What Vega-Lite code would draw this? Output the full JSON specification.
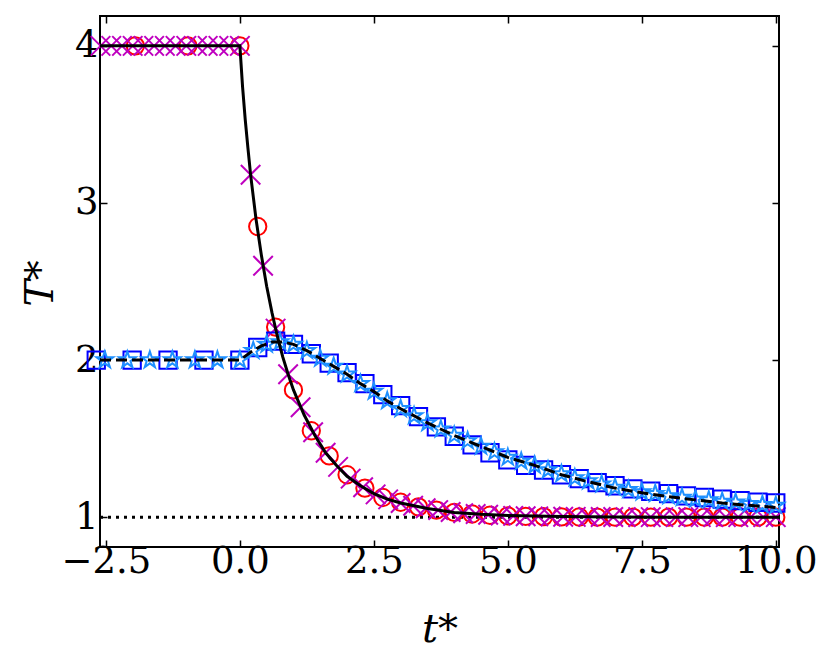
{
  "$schema": "https://vega.github.io/schema/vega-lite/v6.json",
  "width": 679,
  "height": 531,
  "autosize": {"type": "none"},
  "padding": {"left": 100, "top": 16, "right": 52, "bottom": 122},
  "background": "white",
  "datasets": {
    "dotted": [{"t": -2.61, "T": 1.0}, {"t": 10.06, "T": 1.0}],
    "solid": [
      {"t": -2.61, "T": 4.0}, {"t": 0, "T": 4.0}, {"t": 0.05, "T": 3.74}, {"t": 0.1, "T": 3.53},
      {"t": 0.15, "T": 3.35}, {"t": 0.2, "T": 3.18}, {"t": 0.3, "T": 2.9}, {"t": 0.4, "T": 2.67},
      {"t": 0.5, "T": 2.47}, {"t": 0.6, "T": 2.3}, {"t": 0.7, "T": 2.15}, {"t": 0.8, "T": 2.02},
      {"t": 0.9, "T": 1.91}, {"t": 1.0, "T": 1.81}, {"t": 1.2, "T": 1.65}, {"t": 1.4, "T": 1.52},
      {"t": 1.6, "T": 1.41}, {"t": 1.8, "T": 1.33}, {"t": 2.0, "T": 1.26}, {"t": 2.25, "T": 1.2},
      {"t": 2.5, "T": 1.15}, {"t": 2.75, "T": 1.115}, {"t": 3.0, "T": 1.09}, {"t": 3.5, "T": 1.055},
      {"t": 4.0, "T": 1.03}, {"t": 4.5, "T": 1.018}, {"t": 5.0, "T": 1.01}, {"t": 6.0, "T": 1.004},
      {"t": 7.0, "T": 1.001}, {"t": 8.0, "T": 1.0}, {"t": 10.06, "T": 1.0}
    ],
    "dashed": [
      {"t": -2.61, "T": 2.0}, {"t": 0, "T": 2.0}, {"t": 0.2, "T": 2.05}, {"t": 0.4, "T": 2.09},
      {"t": 0.6, "T": 2.115}, {"t": 0.8, "T": 2.115}, {"t": 1.0, "T": 2.1}, {"t": 1.25, "T": 2.06},
      {"t": 1.5, "T": 2.01}, {"t": 1.75, "T": 1.96}, {"t": 2.0, "T": 1.91}, {"t": 2.25, "T": 1.85},
      {"t": 2.5, "T": 1.8}, {"t": 2.75, "T": 1.74}, {"t": 3.0, "T": 1.69}, {"t": 3.5, "T": 1.6},
      {"t": 4.0, "T": 1.52}, {"t": 4.5, "T": 1.45}, {"t": 5.0, "T": 1.38}, {"t": 5.5, "T": 1.33},
      {"t": 6.0, "T": 1.27}, {"t": 6.5, "T": 1.225}, {"t": 7.0, "T": 1.185}, {"t": 7.5, "T": 1.155},
      {"t": 8.0, "T": 1.13}, {"t": 8.5, "T": 1.11}, {"t": 9.0, "T": 1.09}, {"t": 9.5, "T": 1.075},
      {"t": 10.06, "T": 1.06}
    ],
    "circles": [
      {"t": -1.95, "T": 4.0}, {"t": -0.97, "T": 4.0}, {"t": 0.0, "T": 4.0},
      {"t": 0.333, "T": 2.85}, {"t": 0.667, "T": 2.21}, {"t": 1.0, "T": 1.81}, {"t": 1.333, "T": 1.55},
      {"t": 1.667, "T": 1.39}, {"t": 2.0, "T": 1.27}, {"t": 2.333, "T": 1.185}, {"t": 2.667, "T": 1.125},
      {"t": 3.0, "T": 1.095}, {"t": 3.333, "T": 1.065}, {"t": 3.667, "T": 1.045}, {"t": 4.0, "T": 1.03},
      {"t": 4.333, "T": 1.02}, {"t": 4.667, "T": 1.012}, {"t": 5.0, "T": 1.008}, {"t": 5.333, "T": 1.005},
      {"t": 5.667, "T": 1.003}, {"t": 6.0, "T": 1.002}, {"t": 6.333, "T": 1.001}, {"t": 6.667, "T": 1.0},
      {"t": 7.0, "T": 1.0}, {"t": 7.333, "T": 1.0}, {"t": 7.667, "T": 1.0}, {"t": 8.0, "T": 1.0},
      {"t": 8.333, "T": 1.0}, {"t": 8.667, "T": 1.0}, {"t": 9.0, "T": 1.0}, {"t": 9.333, "T": 1.0},
      {"t": 9.667, "T": 1.0}, {"t": 10.0, "T": 1.0}
    ],
    "crosses": [
      {"t": -2.6, "T": 4.0}, {"t": -2.4, "T": 4.0}, {"t": -2.2, "T": 4.0}, {"t": -2.0, "T": 4.0},
      {"t": -1.8, "T": 4.0}, {"t": -1.6, "T": 4.0}, {"t": -1.4, "T": 4.0}, {"t": -1.2, "T": 4.0},
      {"t": -1.0, "T": 4.0}, {"t": -0.8, "T": 4.0}, {"t": -0.6, "T": 4.0}, {"t": -0.4, "T": 4.0},
      {"t": -0.2, "T": 4.0}, {"t": 0.0, "T": 4.0},
      {"t": 0.2, "T": 3.18}, {"t": 0.433, "T": 2.6}, {"t": 0.667, "T": 2.2}, {"t": 0.9, "T": 1.91},
      {"t": 1.133, "T": 1.7}, {"t": 1.367, "T": 1.54}, {"t": 1.6, "T": 1.41}, {"t": 1.833, "T": 1.32},
      {"t": 2.067, "T": 1.245}, {"t": 2.3, "T": 1.19}, {"t": 2.533, "T": 1.145}, {"t": 2.767, "T": 1.113},
      {"t": 3.0, "T": 1.09}, {"t": 3.233, "T": 1.073}, {"t": 3.467, "T": 1.057}, {"t": 3.7, "T": 1.045},
      {"t": 3.933, "T": 1.033}, {"t": 4.167, "T": 1.025}, {"t": 4.4, "T": 1.02}, {"t": 4.633, "T": 1.015},
      {"t": 4.867, "T": 1.011}, {"t": 5.1, "T": 1.008}, {"t": 5.333, "T": 1.006}, {"t": 5.567, "T": 1.005},
      {"t": 5.8, "T": 1.004}, {"t": 6.033, "T": 1.003}, {"t": 6.267, "T": 1.002}, {"t": 6.5, "T": 1.002},
      {"t": 6.733, "T": 1.001}, {"t": 6.967, "T": 1.001}, {"t": 7.2, "T": 1.0}, {"t": 7.433, "T": 1.0},
      {"t": 7.667, "T": 1.0}, {"t": 7.9, "T": 1.0}, {"t": 8.133, "T": 1.0}, {"t": 8.367, "T": 1.0},
      {"t": 8.6, "T": 1.0}, {"t": 8.833, "T": 1.0}, {"t": 9.067, "T": 1.0}, {"t": 9.3, "T": 1.0},
      {"t": 9.533, "T": 1.0}, {"t": 9.767, "T": 1.0}, {"t": 10.0, "T": 1.0}
    ],
    "squares": [
      {"t": -2.68, "T": 2.0}, {"t": -2.01, "T": 2.0}, {"t": -1.34, "T": 2.0}, {"t": -0.67, "T": 2.0},
      {"t": 0.0, "T": 2.0}, {"t": 0.333, "T": 2.08}, {"t": 0.667, "T": 2.12}, {"t": 1.0, "T": 2.1},
      {"t": 1.333, "T": 2.04}, {"t": 1.667, "T": 1.98}, {"t": 2.0, "T": 1.92}, {"t": 2.333, "T": 1.85},
      {"t": 2.667, "T": 1.78}, {"t": 3.0, "T": 1.71}, {"t": 3.333, "T": 1.64}, {"t": 3.667, "T": 1.575},
      {"t": 4.0, "T": 1.515}, {"t": 4.333, "T": 1.46}, {"t": 4.667, "T": 1.41}, {"t": 5.0, "T": 1.365},
      {"t": 5.333, "T": 1.33}, {"t": 5.667, "T": 1.3}, {"t": 6.0, "T": 1.27}, {"t": 6.333, "T": 1.245},
      {"t": 6.667, "T": 1.22}, {"t": 7.0, "T": 1.2}, {"t": 7.333, "T": 1.18}, {"t": 7.667, "T": 1.165},
      {"t": 8.0, "T": 1.15}, {"t": 8.333, "T": 1.135}, {"t": 8.667, "T": 1.125}, {"t": 9.0, "T": 1.115},
      {"t": 9.333, "T": 1.105}, {"t": 9.667, "T": 1.095}, {"t": 10.0, "T": 1.09}
    ],
    "stars": [
      {"t": -2.52, "T": 2.0}, {"t": -2.1, "T": 2.0}, {"t": -1.68, "T": 2.0}, {"t": -1.26, "T": 2.0},
      {"t": -0.84, "T": 2.0}, {"t": -0.42, "T": 2.0}, {"t": 0.0, "T": 2.0},
      {"t": 0.25, "T": 2.06}, {"t": 0.5, "T": 2.1}, {"t": 0.75, "T": 2.115}, {"t": 1.0, "T": 2.1},
      {"t": 1.25, "T": 2.06}, {"t": 1.5, "T": 2.01}, {"t": 1.75, "T": 1.96}, {"t": 2.0, "T": 1.91},
      {"t": 2.25, "T": 1.85}, {"t": 2.5, "T": 1.8}, {"t": 2.75, "T": 1.74}, {"t": 3.0, "T": 1.69},
      {"t": 3.25, "T": 1.645}, {"t": 3.5, "T": 1.6}, {"t": 3.75, "T": 1.56}, {"t": 4.0, "T": 1.52},
      {"t": 4.25, "T": 1.485}, {"t": 4.5, "T": 1.45}, {"t": 4.75, "T": 1.415}, {"t": 5.0, "T": 1.38},
      {"t": 5.25, "T": 1.355}, {"t": 5.5, "T": 1.33}, {"t": 5.75, "T": 1.3}, {"t": 6.0, "T": 1.275},
      {"t": 6.25, "T": 1.25}, {"t": 6.5, "T": 1.23}, {"t": 6.75, "T": 1.21}, {"t": 7.0, "T": 1.19},
      {"t": 7.25, "T": 1.175}, {"t": 7.5, "T": 1.16}, {"t": 7.75, "T": 1.15}, {"t": 8.0, "T": 1.135},
      {"t": 8.25, "T": 1.125}, {"t": 8.5, "T": 1.115}, {"t": 8.75, "T": 1.11}, {"t": 9.0, "T": 1.1},
      {"t": 9.25, "T": 1.095}, {"t": 9.5, "T": 1.085}, {"t": 9.75, "T": 1.08}, {"t": 10.0, "T": 1.075}
    ]
  },
  "encoding": {
    "x": {"field": "t", "type": "quantitative", "axis": null,
          "scale": {"domain": [-2.61, 10.06], "nice": false, "zero": false}},
    "y": {"field": "T", "type": "quantitative", "axis": null,
          "scale": {"domain": [0.81, 4.19], "nice": false, "zero": false}}
  },
  "layer": [
    {
      "data": {"name": "dotted"},
      "mark": {"type": "line", "color": "black", "strokeWidth": 3, "strokeDash": [3, 5], "clip": true},
      "encoding": {
        "x": {"field": "t", "type": "quantitative",
              "scale": {"domain": [-2.61, 10.06], "nice": false, "zero": false},
              "axis": {"orient": "bottom", "values": [-2.5, 0, 2.5, 5, 7.5, 10], "format": ".1f",
                       "labelPadding": 3, "title": "t*", "titleY": 94, "titleBaseline": "alphabetic"}},
        "y": {"field": "T", "type": "quantitative",
              "scale": {"domain": [0.81, 4.19], "nice": false, "zero": false},
              "axis": {"orient": "left", "values": [1, 2, 3, 4], "format": "d",
                       "labelPadding": 9, "title": "T*", "titleX": -48, "titleY": 267,
                       "titleBaseline": "alphabetic", "titleAngle": 270}}
      }
    },
    {
      "data": {"name": "circles"},
      "mark": {"type": "point", "shape": "circle", "filled": false, "color": "#ff0000",
               "size": 300, "strokeWidth": 2, "opacity": 1}
    },
    {
      "data": {"name": "crosses"},
      "mark": {"type": "point", "shape": "M-1,-1L1,1M-1,1L1,-1", "filled": false, "color": "#bf00bf",
               "size": 380, "strokeWidth": 2, "opacity": 1}
    },
    {
      "data": {"name": "squares"},
      "mark": {"type": "point", "shape": "square", "filled": false, "color": "#0000ff",
               "size": 300, "strokeWidth": 2, "opacity": 1}
    },
    {
      "data": {"name": "stars"},
      "mark": {"type": "point",
               "shape": "M0,-1L0.225,-0.309L0.951,-0.309L0.363,0.118L0.588,0.809L0,0.382L-0.588,0.809L-0.363,0.118L-0.951,-0.309L-0.225,-0.309Z",
               "filled": false, "color": "#1e90ff", "size": 300, "strokeWidth": 2, "opacity": 1}
    },
    {
      "data": {"name": "dashed"},
      "mark": {"type": "line", "color": "black", "strokeWidth": 3, "strokeDash": [11, 5], "clip": true}
    },
    {
      "data": {"name": "solid"},
      "mark": {"type": "line", "color": "black", "strokeWidth": 3, "clip": true},
      "encoding": {
        "x": {"field": "t", "type": "quantitative",
              "scale": {"domain": [-2.61, 10.06], "nice": false, "zero": false},
              "axis": {"orient": "top", "values": [-2.5, 0, 2.5, 5, 7.5, 10], "labels": false, "title": null}},
        "y": {"field": "T", "type": "quantitative",
              "scale": {"domain": [0.81, 4.19], "nice": false, "zero": false},
              "axis": {"orient": "right", "values": [1, 2, 3, 4], "labels": false, "title": null}}
      }
    }
  ],
  "resolve": {"axis": {"x": "independent", "y": "independent"}},
  "config": {
    "view": {"stroke": "black", "strokeWidth": 2},
    "axis": {
      "grid": false, "domain": false, "ticks": true,
      "tickColor": "black", "tickWidth": 1.5, "tickSize": -7,
      "labelFont": "DejaVu Serif", "labelFontSize": 37, "labelColor": "black",
      "titleFont": "DejaVu Serif", "titleFontSize": 40, "titleColor": "black",
      "titleFontWeight": "normal", "titleFontStyle": "italic"
    }
  }
}
